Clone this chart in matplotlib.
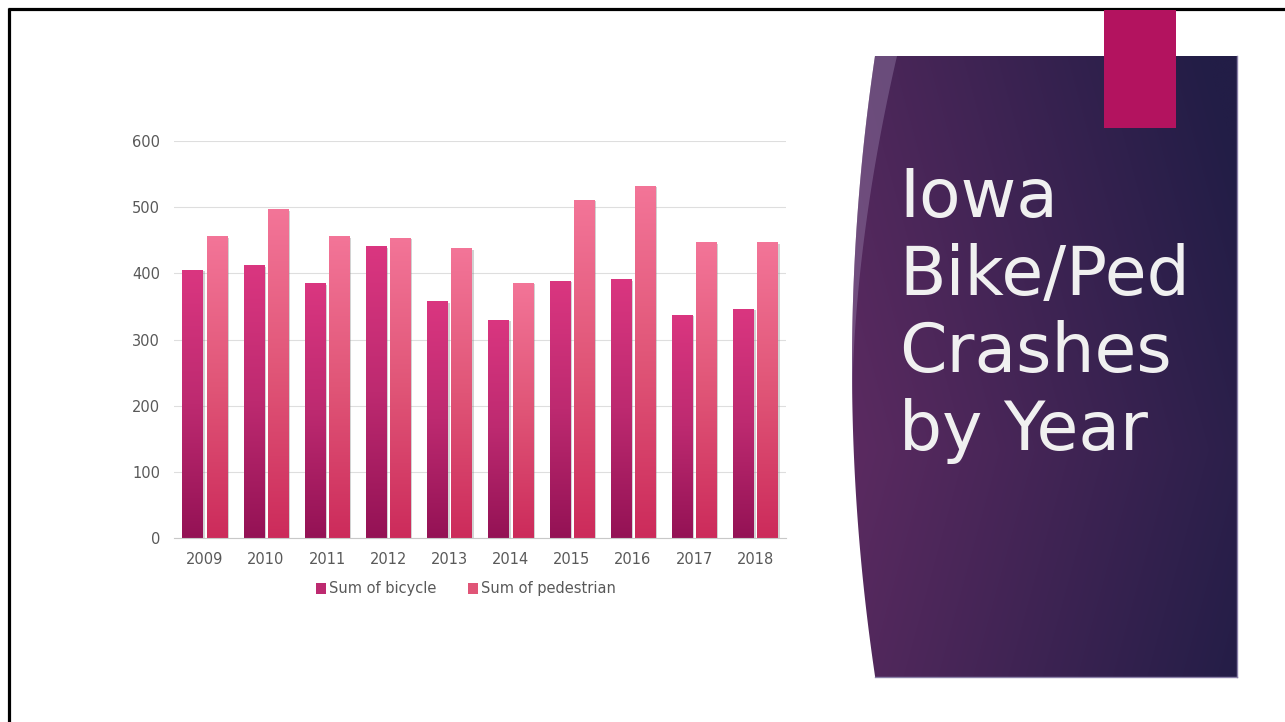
import matplotlib.pyplot as plt
import numpy as np
from matplotlib import patheffects
from matplotlib.colors import LinearSegmentedColormap, to_rgb
from matplotlib.patches import Patch, Polygon, Rectangle

years = ['2009', '2010', '2011', '2012', '2013', '2014', '2015', '2016', '2017', '2018']
bicycle = [405, 412, 385, 441, 358, 330, 389, 391, 337, 346]
pedestrian = [456, 497, 456, 454, 438, 386, 511, 532, 447, 447]
y_ticks = [0, 100, 200, 300, 400, 500, 600]
legend_labels = ['Sum of bicycle', 'Sum of pedestrian']
title_lines = ['Iowa', 'Bike/Ped', 'Crashes', 'by Year']

W, H = 1285, 722
TEXT_GREY = '#595959'

bike_cmap = LinearSegmentedColormap.from_list('bike', ['#941255', '#bd2a70', '#da3680'])
ped_cmap = LinearSegmentedColormap.from_list('ped', ['#cc2b5b', '#e05577', '#f37598'])

fig = plt.figure(figsize=(W / 100, H / 100), dpi=100)

# slide background: border, purple panel, magenta tab, title
bg = fig.add_axes([0, 0, 1, 1])
bg.set_xlim(0, W)
bg.set_ylim(H, 0)
bg.axis('off')

bg.plot([8, W], [8.5, 8.5], color='black', lw=2.3, solid_capstyle='butt')
bg.plot([9, 9], [7.5, H], color='black', lw=2.3, solid_capstyle='butt')

top, bottom, right = 56, 677, 1237


def left_edge(y):
    return 852 + 23 * ((y - 366) / 310.0) ** 2


ys = np.linspace(top, bottom, 120)
panel_pts = [(left_edge(y), y) for y in ys] + [(right, bottom), (right, top)]
panel = Polygon(panel_pts, closed=True, facecolor='none', edgecolor='none')
bg.add_patch(panel)

gx = np.linspace(840, right, 300)
gy = np.linspace(top, bottom, 400)
GX, GY = np.meshgrid(gx, gy)
t = np.clip(0.0022 * (GX - 860) + 0.0006 * np.abs(GY - 450), 0, 1)
c0 = np.array(to_rgb('#5a2a60'))
c1 = np.array(to_rgb('#221d46'))
img = c0[None, None, :] * (1 - t[..., None]) + c1[None, None, :] * t[..., None]
im = bg.imshow(img, extent=[840, right, bottom, top], origin='upper',
               aspect='auto', zorder=1, interpolation='bilinear')
im.set_clip_path(panel)

# lighter stripe on the curved edge
sy = np.linspace(top, 400, 80)
stripe_w = 22 * (1 - (sy - top) / (400 - top)) ** 1.3
stripe_pts = [(left_edge(y), y) for y in sy] + \
             [(left_edge(y) + w, y) for y, w in zip(sy[::-1], stripe_w[::-1])]
bg.add_patch(Polygon(stripe_pts, closed=True, facecolor='#9c86b0', alpha=0.4,
                     edgecolor='none', zorder=2))

bg.plot([right, right], [top, bottom], color='#8a80a8', lw=1, zorder=2)
bg.plot([left_edge(bottom), right], [bottom, bottom], color='#8a80a8', lw=1, zorder=2)

bg.add_patch(Rectangle((1104, 10), 72, 118, facecolor='#b3135f', edgecolor='none', zorder=3))

for line, base in zip(title_lines, [217, 295, 372, 450]):
    bg.text(899, base, line, color='#f0f0f0', fontsize=49, family='DejaVu Sans',
            va='baseline', ha='left', zorder=4)

# chart
ax = fig.add_axes([174 / W, (H - 538) / H, 612 / W, 397 / H])
x = np.arange(len(years))
width = 0.33
shadow = [patheffects.SimplePatchShadow(offset=(1.5, -1), shadow_rgbFace='#808080', alpha=0.35),
          patheffects.Normal()]
grad = np.linspace(0, 1, 256).reshape(-1, 1)

for values, offset, cmap in [(bicycle, -0.197, bike_cmap), (pedestrian, 0.197, ped_cmap)]:
    bars = ax.bar(x + offset, values, width, color='white', edgecolor='none', zorder=2)
    for bar in bars:
        bar.set_path_effects(shadow)
        x0 = bar.get_x()
        gim = ax.imshow(grad, extent=[x0, x0 + bar.get_width(), 0, bar.get_height()],
                        origin='lower', aspect='auto', cmap=cmap, zorder=2.5)
        gim.set_clip_path(bar)

ax.set_xlim(-0.5, len(years) - 0.5)
ax.set_ylim(0, 600)
ax.set_xticks(x)
ax.set_xticklabels(years)
ax.set_yticks(y_ticks)
ax.tick_params(length=0, labelsize=10.5, labelcolor=TEXT_GREY)
ax.tick_params(axis='y', pad=10)
ax.tick_params(axis='x', pad=10)
for s in ['top', 'right', 'left']:
    ax.spines[s].set_visible(False)
ax.spines['bottom'].set_color('#c8c8c8')
ax.spines['bottom'].set_zorder(3)
ax.yaxis.grid(True, color='#dedede', lw=0.8)
ax.set_axisbelow(True)
ax.patch.set_alpha(0)

handles = [Patch(facecolor=bike_cmap(0.5)), Patch(facecolor=ped_cmap(0.5))]
fig.legend(handles, legend_labels, loc='center', bbox_to_anchor=(466 / W, 1 - 589 / H),
           ncol=2, frameon=False, fontsize=10.5, labelcolor=TEXT_GREY,
           handlelength=0.7, handleheight=0.7, handletextpad=0.2, columnspacing=2.2)

fig.savefig('out.png', dpi=100)
